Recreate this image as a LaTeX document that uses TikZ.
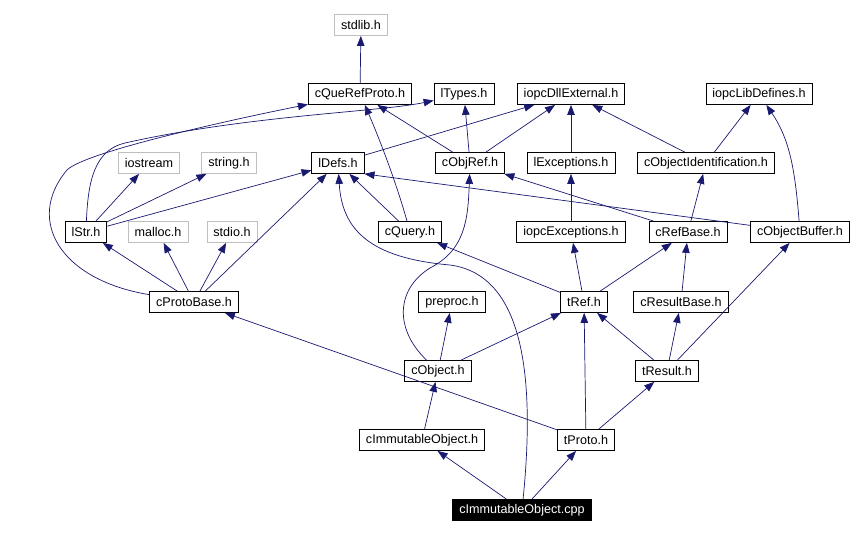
\documentclass[tikz,border=0pt]{standalone}
\usepackage{fontspec}
\setmainfont{Liberation Sans}
\usetikzlibrary{arrows.meta}
\definecolor{navy}{HTML}{191970}
\definecolor{sysgray}{HTML}{BFBFBF}

\begin{document}
\begin{tikzpicture}[x=1pt, y=-1pt, >={Triangle[length=10pt,width=7.5pt]},
	   font=\fontsize{12.6}{14}\selectfont,
	   b/.style={draw, line width=0.8pt, inner xsep=6.5pt, inner ysep=0pt, minimum height=21pt},
	   sys/.style={b, draw=sysgray},
	   d/.style={->, draw=navy, line width=0.7pt}]
	  \useasboundingbox (0,0) rectangle (865,534);
	  \node[sys] (stdlib) at (361,25) {stdlib.h};
	  \node[b] (cqrp) at (360,94) {cQueRefProto.h};
	  \node[b] (ltypes) at (464,94) {lTypes.h};
	  \node[b] (dllext) at (571,94) {iopcDllExternal.h};
	  \node[b] (libdef) at (759,94) {iopcLibDefines.h};
	  \node[sys] (iostream) at (149,163) {iostream};
	  \node[sys] (stringh) at (229,163) {string.h};
	  \node[b] (ldefs) at (338,163) {lDefs.h};
	  \node[b] (cobjref) at (470,163) {cObjRef.h};
	  \node[b] (lexc) at (571,163) {lExceptions.h};
	  \node[b] (cobjid) at (706,163) {cObjectIdentification.h};
	  \node[b] (lstr) at (86,232) {lStr.h};
	  \node[sys] (malloc) at (158,232) {malloc.h};
	  \node[sys] (stdio) at (232,232) {stdio.h};
	  \node[b] (cquery) at (410,232) {cQuery.h};
	  \node[b] (iopcexc) at (571,232) {iopcExceptions.h};
	  \node[b] (crefbase) at (688,232) {cRefBase.h};
	  \node[b] (cobjbuf) at (800,232) {cObjectBuffer.h};
	  \node[b] (cprotobase) at (194,302) {cProtoBase.h};
	  \node[b] (preproc) at (452,302) {preproc.h};
	  \node[b] (tref) at (584,302) {tRef.h};
	  \node[b] (cresultbase) at (681,302) {cResultBase.h};
	  \node[b] (cobject) at (438,371) {cObject.h};
	  \node[b] (tresult) at (667,371) {tResult.h};
	  \node[b] (cimmh) at (422,440) {cImmutableObject.h};
	  \node[b] (tproto) at (586,440) {tProto.h};
	  \node[b, fill=black, text=white] (cpp) at (522,510) {cImmutableObject.cpp};

	  \draw[d] (cqrp) -- (stdlib);
	  \draw[d] (cpp) -- (cimmh);
	  \draw[d] (cpp) -- (tproto);
	  \draw[d] (cpp) .. controls (535,380) and (525,275) .. (450,265) .. controls (370,258) and (342,230) .. (ldefs);
	  \draw[d] (cimmh) -- (cobject);
	  \draw[d] (cobject) -- (preproc);
	  \draw[d] (cobject) -- (tref);
	  \draw[d] (cobject) .. controls (395,330) and (395,290) .. (430,268) .. controls (465,250) and (468,220) .. (cobjref);
	  \draw[d] (tproto) -- (cprotobase);
	  \draw[d] (tproto) -- (tref);
	  \draw[d] (tproto) -- (tresult);
	  \draw[d] (tresult) -- (tref);
	  \draw[d] (tresult) -- (cresultbase);
	  \draw[d] (tresult) -- (cobjbuf);
	  \draw[d] (tref) -- (cquery);
	  \draw[d] (tref) -- (iopcexc);
	  \draw[d] (tref) -- (crefbase);
	  \draw[d] (cresultbase) -- (crefbase);
	  \draw[d] (crefbase) -- (cobjid);
	  \draw[d] (crefbase) -- (cobjref);
	  \draw[d] (cobjbuf) .. controls (795,170) and (790,140) .. (libdef);
	  \draw[d] (cobjbuf) -- (ldefs.south east);
	  \draw[d] (cobjid) -- (libdef);
	  \draw[d] (cobjid) -- (dllext);
	  \draw[d] (iopcexc) -- (lexc);
	  \draw[d] (lexc) -- (dllext);
	  \draw[d] (cobjref) -- (dllext);
	  \draw[d] (cobjref) -- (ltypes);
	  \draw[d] (cobjref) -- (cqrp);
	  \draw[d] (ldefs) -- (dllext);
	  \draw[d] (cquery) -- (ldefs);
	  \draw[d] (cquery) .. controls (397,185) and (380,140) .. (cqrp);
	  \draw[d] (lstr) -- (iostream);
	  \draw[d] (lstr) -- (stringh);
	  \draw[d] (lstr) -- (ldefs);
	  \draw[d] (lstr) .. controls (88,180) and (95,150) .. (125,143) .. controls (250,115) and (380,112) .. (ltypes);
	  \draw[d] (cprotobase) -- (lstr);
	  \draw[d] (cprotobase) -- (malloc);
	  \draw[d] (cprotobase) -- (stdio);
	  \draw[d] (cprotobase) -- (ldefs);
	  \draw[d] (cprotobase) .. controls (60,280) and (25,220) .. (67,170) .. controls (85,152) and (230,120) .. (cqrp);
	\end{tikzpicture}
\end{document}
